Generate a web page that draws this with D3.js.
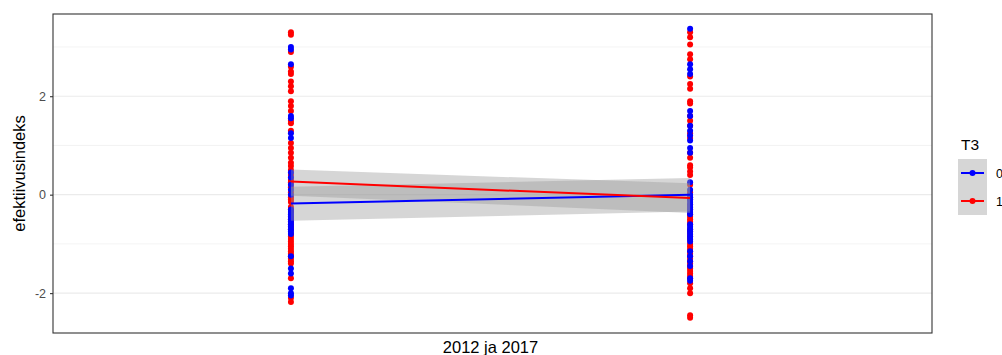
<!DOCTYPE html>
<html>
<head>
<meta charset="utf-8">
<script src="https://cdn.jsdelivr.net/npm/d3@7"></script>
<style>
  html, body { margin: 0; padding: 0; background: #fff; }
  svg { display: block; font-family: "Liberation Sans", Arial, sans-serif; }
</style>
</head>
<body>
<svg id="chart" width="1002" height="355"></svg>
<script>
// Observation years
const years = [2012, 2017];

// efektiivusindeks values, per year and T3 group
const t0y2012 = [3.0, 2.95, 2.65, 1.6, 1.55, 1.25, 1.15, 0.45, 0.35, 0.2, 0.1, 0.0,
  -0.3, -0.35, -0.4, -0.45, -0.5, -0.55, -0.6, -0.65, -0.7, -0.75, -0.8,
  -1.25, -1.5, -1.6, -1.9, -2.0, -2.05];
const t1y2012 = [3.3, 3.25, 2.9, 2.6, 2.5, 2.45, 2.3, 2.2, 2.1, 1.9, 1.8, 1.7, 1.5,
  1.45, 1.3, 1.05, 0.95, 0.85, 0.75, 0.65, 0.58, 0.5, 0.4, 0.3, 0.25, 0.15, 0.05,
  -0.05, -0.1, -0.15, -0.25, -0.3, -0.35, -0.45, -0.5, -0.55, -0.6, -0.65, -0.7,
  -0.8, -0.85, -0.9, -0.95, -1.0, -1.05, -1.1, -1.15, -1.2, -1.25, -1.3, -1.35,
  -1.4, -1.7, -2.1, -2.18];
const t0y2017 = [3.37, 2.65, 2.55, 2.45, 1.7, 1.6, 1.4, 1.3, 1.2, 1.1, 0.95, 0.85,
  0.25, 0.1, 0.0, -0.05, -0.1, -0.15, -0.2, -0.25, -0.3, -0.35, -0.4,
  -0.6, -0.65, -0.7, -0.75, -0.8, -0.85, -0.9, -0.95, -1.15, -1.25, -1.35,
  -1.45, -1.7, -1.75];
const t1y2017 = [3.3, 3.2, 3.05, 2.85, 2.75, 2.4, 2.25, 2.15, 1.9, 1.85, 1.6, 1.5,
  1.4, 1.25, 1.15, 0.85, 0.75, 0.6, 0.55, 0.47, 0.4, 0.2, 0.05, -0.05, -0.1, -0.2,
  -0.25, -0.3, -0.4, -0.45, -0.5, -0.55, -0.6, -0.7, -0.75, -0.8, -0.85, -0.9,
  -1.0, -1.05, -1.1, -1.15, -1.2, -1.25, -1.3, -1.35, -1.4, -1.45, -1.5, -1.55,
  -1.6, -1.65, -1.7, -1.8, -1.9, -2.0, -2.45, -2.5];

// Linear fits with confidence band (at 2012 and 2017)
const fitT0 = [-0.18, 0.0];
const lowT0 = [-0.53, -0.34];
const highT0 = [0.16, 0.34];
const fitT1 = [0.265, -0.07];
const lowT1 = [-0.02, -0.37];
const highT1 = [0.51, 0.23];

// Axis ticks and legend
const yMajor = [-2, 0, 2];
const yMinor = [-1, 1, 3];
const groups = ["0", "1"];
const groupColors = ["#0000FF", "#FF0000"];

const svg = d3.select("#chart");
const panel = { left: 53, right: 932, top: 14, bottom: 333 };

const x = d3.scaleLinear().domain([2009.02, 2020.03]).range([panel.left, panel.right]);
const y = d3.scaleLinear().domain([-2.81, 3.67]).range([panel.bottom, panel.top]);

// panel background
svg.append("rect")
  .attr("x", panel.left).attr("y", panel.top)
  .attr("width", panel.right - panel.left).attr("height", panel.bottom - panel.top)
  .attr("fill", "#fff");

// grid lines
svg.append("g").selectAll("line").data(yMinor).join("line")
  .attr("x1", panel.left).attr("x2", panel.right)
  .attr("y1", d => y(d)).attr("y2", d => y(d))
  .attr("stroke", "#EBEBEB").attr("stroke-width", 0.6);
svg.append("g").selectAll("line").data(yMajor).join("line")
  .attr("x1", panel.left).attr("x2", panel.right)
  .attr("y1", d => y(d)).attr("y2", d => y(d))
  .attr("stroke", "#EBEBEB").attr("stroke-width", 1.1);

// points: group 1 first, group 0 drawn over it
const rows = [];
[[t1y2012, 1, 2012], [t1y2017, 1, 2017], [t0y2012, 0, 2012], [t0y2017, 0, 2017]]
  .forEach(([vals, g, yr]) => vals.forEach(v => rows.push({ year: yr, g, v })));
svg.append("g").selectAll("circle").data(rows).join("circle")
  .attr("cx", d => x(d.year)).attr("cy", d => y(d.v)).attr("r", 3)
  .attr("fill", d => groupColors[d.g]);

// confidence bands
const bands = [[lowT0, highT0], [lowT1, highT1]];
const area = d3.area()
  .x((d, i) => x(years[i]))
  .y0(d => y(d[0])).y1(d => y(d[1]));
svg.append("g").selectAll("path").data(bands).join("path")
  .attr("d", b => area(years.map((_, i) => [b[0][i], b[1][i]])))
  .attr("fill", "#999999").attr("fill-opacity", 0.4);

// fitted lines
const line = d3.line().x((d, i) => x(years[i])).y(d => y(d));
svg.append("g").selectAll("path").data([fitT0, fitT1]).join("path")
  .attr("d", d => line(d))
  .attr("fill", "none")
  .attr("stroke", (d, i) => groupColors[i])
  .attr("stroke-width", 2);

// panel border
svg.append("rect")
  .attr("x", panel.left).attr("y", panel.top)
  .attr("width", panel.right - panel.left).attr("height", panel.bottom - panel.top)
  .attr("fill", "none").attr("stroke", "#333333").attr("stroke-width", 1.1);

// y axis
const yAxis = d3.axisLeft(y).tickValues(yMajor).tickSize(3).tickPadding(4).tickFormat(d3.format("d"));
const gy = svg.append("g").attr("transform", `translate(${panel.left},0)`).call(yAxis);
gy.select(".domain").remove();
gy.selectAll(".tick line").attr("stroke", "#333333").attr("stroke-width", 1.1);
gy.selectAll(".tick text").attr("fill", "#4D4D4D").attr("font-size", 12.5)
  .attr("font-family", "Liberation Sans, Arial, sans-serif")
  .text(d => d < 0 ? "-" + Math.abs(d) : d);

// axis titles
svg.append("text")
  .attr("transform", `translate(25,${(panel.top + panel.bottom) / 2}) rotate(-90)`)
  .attr("text-anchor", "middle").attr("font-size", 16.5).attr("fill", "#000")
  .text("efektiivusindeks");
svg.append("text")
  .attr("x", (panel.left + panel.right) / 2 - 2).attr("y", 353)
  .attr("text-anchor", "middle").attr("font-size", 16.5).attr("fill", "#000")
  .text("2012 ja 2017");

// legend
const lg = svg.append("g").attr("transform", "translate(958,130)");
lg.append("text").attr("x", 3).attr("y", 20).attr("font-size", 15.5).attr("fill", "#000").text("T3");
const keys = lg.selectAll("g.key").data(groups).join("g")
  .attr("class", "key")
  .attr("transform", (d, i) => `translate(0,${29 + i * 28})`);
keys.append("rect").attr("width", 29).attr("height", 28).attr("fill", "#D6D6D6");
keys.append("line").attr("x1", 3).attr("x2", 26).attr("y1", 14).attr("y2", 14)
  .attr("stroke", (d, i) => groupColors[i]).attr("stroke-width", 2);
keys.append("circle").attr("cx", 14.5).attr("cy", 14).attr("r", 3)
  .attr("fill", (d, i) => groupColors[i]);
keys.append("text").attr("x", 38).attr("y", 18.5).attr("font-size", 12.5).attr("fill", "#000").text(d => d);
</script>
</body>
</html>
